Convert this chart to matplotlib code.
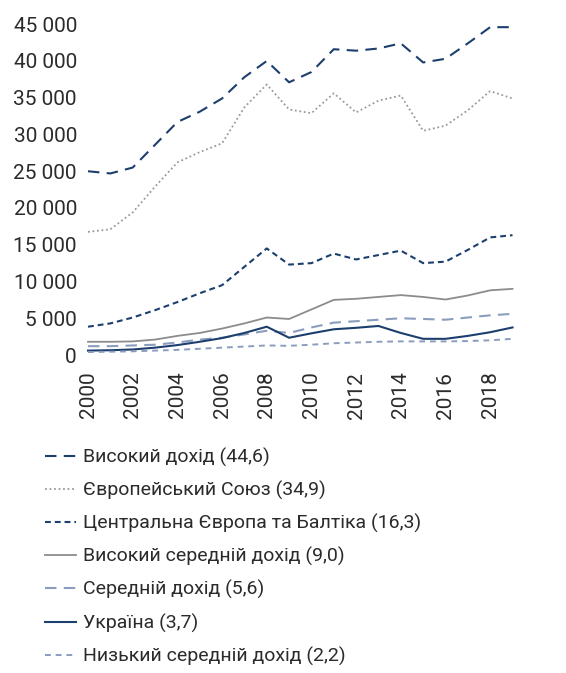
import matplotlib
matplotlib.use("Agg")
import matplotlib.pyplot as plt
from matplotlib.ticker import FuncFormatter, MultipleLocator

plt.rcParams['font.family'] = ['Roboto', 'DejaVu Sans']

years = list(range(2000, 2020))

high_income = [25000, 24700, 25500, 28600, 31700, 33100, 34900, 37800, 40000, 37100,
               38500, 41600, 41400, 41700, 42400, 39800, 40300, 42400, 44600, 44600]
eu = [16750, 17100, 19400, 22900, 26200, 27600, 28800, 33700, 36800, 33400,
      32900, 35600, 33000, 34600, 35300, 30500, 31200, 33300, 35900, 34900]
ceb = [3850, 4300, 5100, 6100, 7200, 8400, 9500, 12000, 14500, 12300,
       12500, 13800, 13000, 13600, 14200, 12500, 12700, 14300, 16000, 16300]
upper_middle = [1800, 1800, 1850, 2100, 2600, 3000, 3600, 4300, 5100, 4900,
                6200, 7500, 7650, 7900, 8150, 7900, 7550, 8100, 8800, 9000]
middle = [1200, 1200, 1300, 1400, 1700, 2100, 2350, 2800, 3300, 3000,
          3750, 4400, 4600, 4800, 5000, 4900, 4800, 5100, 5400, 5600]
ukraine = [600, 650, 750, 1000, 1350, 1800, 2300, 3000, 3850, 2350,
           2950, 3500, 3700, 3950, 3000, 2200, 2200, 2600, 3100, 3750]
lower_middle = [400, 450, 500, 600, 700, 850, 1000, 1150, 1300, 1250,
                1400, 1600, 1700, 1800, 1850, 1850, 1850, 1900, 2000, 2200]

labels = ["Високий дохід (44,6)", "Європейський Союз (34,9)",
          "Центральна Європа та Балтіка (16,3)", "Високий середній дохід (9,0)",
          "Середній дохід (5,6)", "Україна (3,7)", "Низький середній дохід (2,2)"]

navy = "#1d3f6e"
gray = "#8c8c8c"
lightblue = "#8a9dbd"
text_col = "#2b2b2b"

fig = plt.figure(figsize=(5.66, 6.73), dpi=100)
ax = fig.add_axes([0.1555, 0.4725, 0.75, 0.4915])

series = [
    (high_income, dict(color=navy, lw=1.5, linestyle=(0, (5.5, 3.5)))),
    (eu, dict(color="#9a9a9a", lw=1.3, linestyle=(0, (1, 1.5)))),
    (ceb, dict(color=navy, lw=1.5, linestyle=(0, (2.8, 1.9)))),
    (upper_middle, dict(color=gray, lw=1.3, linestyle='-')),
    (middle, dict(color=lightblue, lw=1.5, linestyle=(0, (5.5, 3.5)))),
    (ukraine, dict(color=navy, lw=1.5, linestyle='-')),
    (lower_middle, dict(color=lightblue, lw=1.4, linestyle=(0, (3, 2.5)))),
]
handles = []
for vals, kw in series:
    h, = ax.plot(years, vals, clip_on=False, **kw)
    handles.append(h)

ax.set_xlim(2000, 2019)
ax.set_ylim(0, 45000)
ax.xaxis.set_major_locator(MultipleLocator(2))
ax.yaxis.set_major_locator(MultipleLocator(5000))
ax.yaxis.set_major_formatter(FuncFormatter(lambda v, p: f"{int(v):,}".replace(",", " ")))
for s in ax.spines.values():
    s.set_visible(False)
ax.tick_params(axis='both', length=0, labelsize=15, labelcolor=text_col)
ax.tick_params(axis='y', pad=8)
ax.tick_params(axis='x', pad=12, labelrotation=90)

fig.legend(handles, labels, loc='upper left', bbox_to_anchor=(0.079, 0.335),
           frameon=False, fontsize=14, labelcolor=text_col, handlelength=1.6,
           handletextpad=0.35, labelspacing=0.72, borderaxespad=0, borderpad=0)

fig.savefig("out.png", dpi=100)
